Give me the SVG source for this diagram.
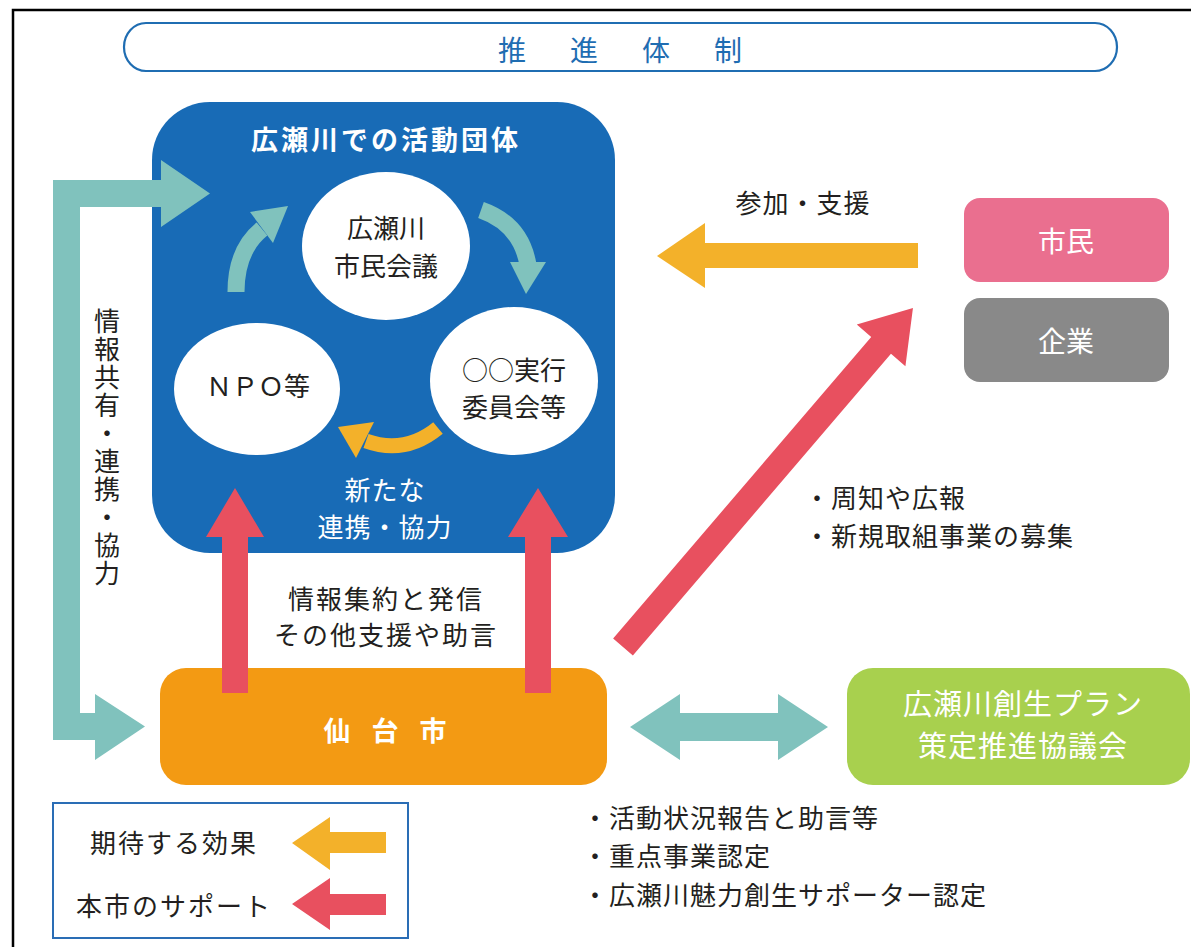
<svg xmlns="http://www.w3.org/2000/svg" width="1191" height="947" viewBox="0 0 1191 947">
<style>
text{font-family:"Noto Sans CJK JP","Noto Sans",sans-serif;}
.dk{fill:#231f20;font-size:26px;}
.wt{fill:#ffffff;}
.teal{fill:#80c2bd;}
.red{fill:#e8505f;}
.yel{fill:#f3b12a;}
.tealS{fill:none;stroke:#80c2bd;stroke-width:17;}
.yelS{fill:none;stroke:#f3b12a;stroke-width:15;}
.mid{text-anchor:middle;}
</style>
<rect width="1191" height="947" fill="#ffffff"/>
<rect x="13" y="10" width="1200" height="1000" fill="none" stroke="#000" stroke-width="2.5"/>

<g id="title">
<rect x="124" y="23" width="993" height="48" rx="22" ry="24" fill="#fff" stroke="#1f6db2" stroke-width="2.2"/>
<text class="mid" x="512 584 656 728" y="61" font-size="28" fill="#1f6db2">推進体制</text>
</g>

<g id="activity-groups">
<rect x="152" y="102" width="463" height="451" rx="58" fill="#186bb6"/>
<text class="wt mid" x="386" y="150" font-size="27" font-weight="bold" letter-spacing="3">広瀬川での活動団体</text>
</g>

<g id="citizen-council">
<ellipse cx="386" cy="246" rx="84" ry="74" fill="#fff"/>
<text class="dk mid" x="386" y="238" font-size="30">広瀬川</text>
<text class="dk mid" x="386" y="276" font-size="30">市民会議</text>
</g>
<g id="npo">
<ellipse cx="257" cy="389" rx="83" ry="66" fill="#fff"/>
<text class="dk mid" x="258" y="396" font-size="30">ＮＰＯ等</text>
</g>
<g id="committee">
<ellipse cx="514" cy="381" rx="84" ry="74" fill="#fff"/>
<text class="dk mid" x="514" y="380" font-size="30">○○実行</text>
<text class="dk mid" x="514" y="417" font-size="30">委員会等</text>
</g>

<g id="sendai">
<rect x="160" y="668" width="447" height="117" rx="26" fill="#f39a13"/>
<text class="wt mid" x="337 385 433" y="741" font-size="27" font-weight="bold">仙台市</text>
</g>

<g id="plan-council">
<rect x="847" y="668" width="343" height="117" rx="26" fill="#a8d04e"/>
<text class="wt mid" x="1023" y="715" font-size="29" letter-spacing="1">広瀬川創生プラン</text>
<text class="wt mid" x="1023" y="757" font-size="29" letter-spacing="1">策定推進協議会</text>
</g>

<g id="citizens">
<rect x="964" y="198" width="205" height="84" rx="16" fill="#ea6f8f"/>
<text class="wt mid" x="1066" y="252" font-size="28">市民</text>
</g>
<g id="companies">
<rect x="964" y="298" width="205" height="84" rx="16" fill="#898989"/>
<text class="wt mid" x="1066" y="352" font-size="28">企業</text>
</g>

<g id="connectors">
<polygon class="teal" points="53,740 53,180 161,180 161,160 210,193.5 161,227 161,207 80,207 80,713 95,713 95,694 145,726.5 95,760 95,740"/>
<path class="tealS" d="M236 292 Q236 250 262 229"/>
<polygon class="teal" points="250,212 288,206 273,243"/>
<path class="tealS" d="M481 210 Q521 224 528 265"/>
<polygon class="teal" points="510,262 546,262 526,294"/>
<path class="yelS" d="M438 428 Q405 455 366 441"/>
<polygon class="yel" points="338,427 374,422 356,458"/>
<polygon class="red" points="222,693 222,537 206,537 235,488 264,537 248,537 248,693"/>
<polygon class="red" points="525,693 525,537 508,537 538,488 568,537 551,537 551,693"/>
<polygon class="red" transform="translate(623,647) rotate(-49.45)" points="0,-13 397,-13 397,-32 446,0 397,32 397,13 0,13"/>
<polygon class="yel" points="657,256 705,223 705,243 918,243 918,268 705,268 705,288"/>
<polygon class="teal" points="630,727 680,694 680,713 778,713 778,694 828,727 778,760 778,741 680,741 680,760"/>
</g>

<g id="labels">
<text class="wt mid" x="385" y="500" font-size="26" letter-spacing="1">新たな</text>
<text class="wt mid" x="385" y="537" font-size="26" letter-spacing="1">連携・協力</text>
<text class="dk mid" x="386" y="609" letter-spacing="2">情報集約と発信</text>
<text class="dk mid" x="386" y="645" letter-spacing="2">その他支援や助言</text>
<text class="dk mid" x="803" y="213" letter-spacing="1">参加・支援</text>
<text class="dk" x="804" y="508" letter-spacing="1">・周知や広報</text>
<text class="dk" x="804" y="546" letter-spacing="1">・新規取組事業の募集</text>
<text class="dk" x="582" y="828" font-size="27" letter-spacing="1">・活動状況報告と助言等</text>
<text class="dk" x="582" y="866" font-size="27" letter-spacing="1">・重点事業認定</text>
<text class="dk" x="582" y="905" font-size="27" letter-spacing="1">・広瀬川魅力創生サポーター認定</text>
<text class="dk" x="107" y="308" font-size="26" letter-spacing="2" writing-mode="vertical-rl" style="writing-mode:vertical-rl">情報共有・連携・協力</text>
</g>

<g id="legend">
<rect x="53" y="803" width="355" height="135" fill="#fff" stroke="#2a6db5" stroke-width="2"/>
<text class="dk" x="90" y="853" letter-spacing="2">期待する効果</text>
<text class="dk" x="76" y="916" letter-spacing="2">本市のサポート</text>
<polygon class="yel" points="292,843 330,817 330,832 386,832 386,853 330,853 330,870"/>
<polygon class="red" points="292,904 330,878 330,894 386,894 386,915 330,915 330,930"/>
</g>
</svg>
